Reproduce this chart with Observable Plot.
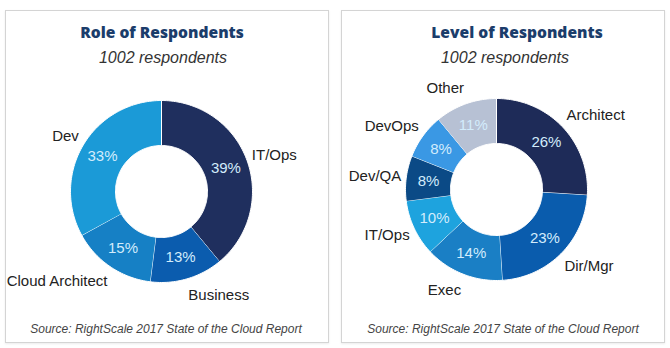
<!DOCTYPE html>
<html>
<head>
<meta charset="utf-8">
<script src="https://cdn.jsdelivr.net/npm/d3@7"></script>
<script src="https://cdn.jsdelivr.net/npm/@observablehq/plot@0.6"></script>
<style>
  html, body { margin: 0; padding: 0; background: #fff; }
  #root { position: relative; width: 670px; height: 348px; overflow: hidden; font-family: "Liberation Sans", Arial, sans-serif; }
  .panel { position: absolute; top: 10px; height: 331px; border: 1px solid #d4d4d4; box-shadow: 0 1px 2px rgba(0,0,0,0.08); background: #fff; }
  .t { position: absolute; white-space: nowrap; transform: translate(-50%, -50%); }
  .title { font-family: "Open Sans", sans-serif; font-weight: 800; font-size: 15.6px; color: #1b3d6b; }
  .sub { font-style: italic; font-size: 16px; color: #333; }
  .src { font-style: italic; font-size: 12px; color: #444; }
  .plot { position: absolute; top: 75px; }
  .plot svg { overflow: visible; }
</style>
</head>
<body>
<div id="root">
  <div class="panel" style="left:5px; width:322px;"></div>
  <div class="panel" style="left:341px; width:322px;"></div>
  <div class="t title" style="left:162px; top:32px;">Role of Respondents</div>
  <div class="t sub" style="left:163px; top:58px;">1002 respondents</div>
  <div class="t src" style="left:166px; top:329px;">Source: RightScale 2017 State of the Cloud Report</div>
  <div class="t title" style="left:517px; top:32px;">Level of Respondents</div>
  <div class="t sub" style="left:505px; top:58px;">1002 respondents</div>
  <div class="t src" style="left:503px; top:329px;">Source: RightScale 2017 State of the Cloud Report</div>
  <div class="plot" id="left" style="left:5px;"></div>
  <div class="plot" id="right" style="left:341px;"></div>
</div>
<script>
// ---- Data ----
const roleCategories = ["IT/Ops", "Business", "Cloud Architect", "Dev"];
const roleValues = [39, 13, 15, 33];
const roleColors = ["#1f2f5e", "#0b5cae", "#1680c5", "#1b9ad7"];

const levelCategories = ["Architect", "Dir/Mgr", "Exec", "IT/Ops", "Dev/QA", "DevOps", "Other"];
const levelValues = [26, 23, 14, 10, 8, 8, 11];
const levelColors = ["#1e2b58", "#0a5cad", "#1a7fc5", "#1ea3de", "#0b4a86", "#3a98e4", "#b7c1d4"];

// ---- Donut drawing ----
function donut(el, cats, vals, colors, cx, cy) {
  const W = 322, H = 240, R = 91, r = 46, LRx = 96, LRy = 108;
  const total = d3.sum(vals);
  const pts = [], pct = [], labels = [];
  let acc = 0;
  cats.forEach((c, i) => {
    const f0 = acc / total, f1 = (acc + vals[i]) / total;
    acc += vals[i];
    const n = Math.max(2, Math.ceil((f1 - f0) * 240));
    for (let k = 0; k <= n; k++) {
      const a = 2 * Math.PI * (f0 + (f1 - f0) * k / n);
      pts.push({key: c, x: R * Math.sin(a), y: R * Math.cos(a)});
    }
    for (let k = n; k >= 0; k--) {
      const a = 2 * Math.PI * (f0 + (f1 - f0) * k / n);
      pts.push({key: c, x: r * Math.sin(a), y: r * Math.cos(a)});
    }
    const am = Math.PI * (f0 + f1);
    const rm = (R + r) / 2;
    pct.push({text: vals[i] + "%", x: rm * Math.sin(am), y: rm * Math.cos(am)});
    labels.push({text: c, x: LRx * Math.sin(am), y: LRy * Math.cos(am), right: Math.sin(am) >= 0});
  });
  const chart = Plot.plot({
    width: W, height: H,
    margin: 0,
    x: {domain: [-cx, W - cx], axis: null},
    y: {domain: [-(H - cy), cy], axis: null},
    color: {domain: cats, range: colors},
    style: {background: "transparent", fontFamily: "Liberation Sans, Arial, sans-serif", overflow: "visible"},
    marks: [
      Plot.line(pts, {x: "x", y: "y", z: "key", fill: "key", stroke: "#ffffff", strokeWidth: 1, curve: "linear"}),
      Plot.text(pct, {x: "x", y: "y", text: "text", fill: "#d3ecfc", fontSize: 15}),
      Plot.text(labels.filter(d => d.right), {x: "x", y: "y", text: "text", textAnchor: "start", fill: "#222", fontSize: 15}),
      Plot.text(labels.filter(d => !d.right), {x: "x", y: "y", text: "text", textAnchor: "end", fill: "#222", fontSize: 15})
    ]
  });
  document.getElementById(el).appendChild(chart);
}

donut("left", roleCategories, roleValues, roleColors, 156, 116);
donut("right", levelCategories, levelValues, levelColors, 155, 114);
</script>
</body>
</html>
